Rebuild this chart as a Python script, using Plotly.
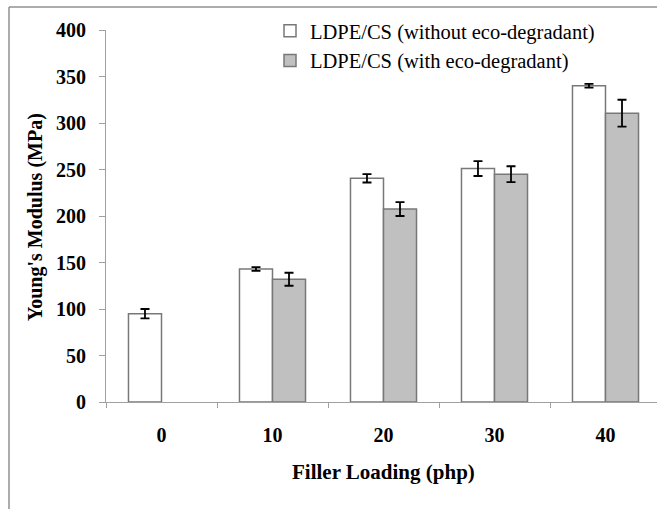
import plotly.graph_objects as go

categories = ["0", "10", "20", "30", "40"]
without_vals = [95, 143, 240.5, 251, 340]
without_err = [5, 2, 4.5, 8, 2]
with_cats = ["10", "20", "30", "40"]
with_vals = [132, 207.5, 245, 310.5]
with_err = [7, 7.5, 8.5, 14.5]
y_ticks = [0, 50, 100, 150, 200, 250, 300, 350, 400]

W, H = 657, 509
L, R, T, B = 106, 0, 30, 107
pw, ph = W - L - R, H - T - B

def px_x(px):
    return (px - L) / pw

def px_y(py):
    return (H - B - py) / ph

font_fam = "Liberation Serif, Times New Roman, serif"

fig = go.Figure()
fig.add_trace(go.Bar(
    x=categories, y=without_vals, name="LDPE/CS (without eco-degradant)",
    marker=dict(color="white", line=dict(color="#787878", width=1.5)),
    error_y=dict(type="data", array=without_err, color="black", thickness=1.8, width=4.5),
))
fig.add_trace(go.Bar(
    x=with_cats, y=with_vals, name="LDPE/CS (with eco-degradant)",
    marker=dict(color="#c0c0c0", line=dict(color="#787878", width=1.5)),
    error_y=dict(type="data", array=with_err, color="black", thickness=1.8, width=4.5),
))

fig.update_layout(
    width=W, height=H,
    margin=dict(l=L, r=R, t=T, b=B),
    paper_bgcolor="white", plot_bgcolor="white",
    barmode="group", bargap=0.405, bargroupgap=0,
    font=dict(family=font_fam, color="black"),
    showlegend=True,
    legend=dict(x=px_x(270), y=px_y(11), xanchor="left", yanchor="top",
                font=dict(size=20.5, family=font_fam), bgcolor="rgba(0,0,0,0)",
                itemwidth=30),
    xaxis=dict(
        type="category", categoryorder="array", categoryarray=categories,
        range=[-0.5, -0.5 + pw / 111.0],
        showline=True, linecolor="#a0a0a0", linewidth=1,
        ticks="outside", tickson="boundaries", ticklen=5, tickcolor="#a0a0a0",
        tickfont=dict(size=20, family=font_fam, weight="bold"),
        ticklabelstandoff=15,
        showgrid=False, zeroline=False,
    ),
    yaxis=dict(
        range=[0, 400], tickvals=y_ticks,
        showline=True, linecolor="#a0a0a0", linewidth=1,
        ticks="outside", ticklen=6, tickcolor="#a0a0a0",
        tickfont=dict(size=20, family=font_fam, weight="bold"),
        ticklabelstandoff=9,
        showgrid=False, zeroline=False,
    ),
    annotations=[
        dict(text="<b>Young's Modulus (MPa)</b>", xref="paper", yref="paper",
             x=px_x(35), y=px_y(217), textangle=-90, showarrow=False,
             font=dict(size=20, family=font_fam), xanchor="center", yanchor="middle"),
        dict(text="<b>Filler Loading (php)</b>", xref="paper", yref="paper",
             x=px_x(383), y=px_y(472), showarrow=False,
             font=dict(size=21, family=font_fam), xanchor="center", yanchor="middle"),
    ],
    shapes=[
        dict(type="line", xref="paper", yref="paper", x0=px_x(9), x1=px_x(9),
             y0=px_y(7), y1=px_y(520), line=dict(color="#909090", width=1.5)),
        dict(type="line", xref="paper", yref="paper", x0=px_x(9), x1=px_x(670),
             y0=px_y(7), y1=px_y(7), line=dict(color="#909090", width=1.5)),
    ],
)

fig.write_html("out.html")
